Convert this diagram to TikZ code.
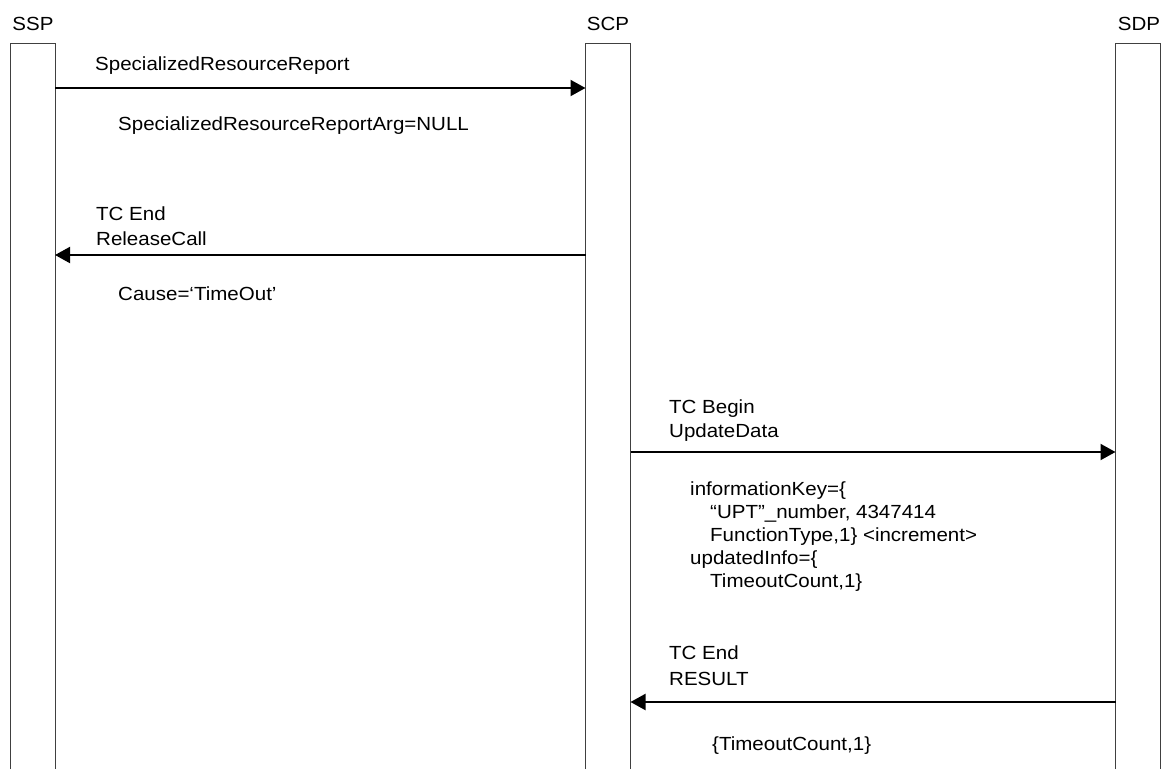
\documentclass[tikz,border=0pt]{standalone}
\usepackage{fontspec}
\setmainfont{Liberation Sans}[FakeStretch=1.08]
\usetikzlibrary{arrows.meta}
\begin{document}
\begin{tikzpicture}[x=1pt,y=-1pt,
  lifeline/.style={draw=black!75,line width=1pt},
  msg/.style={draw=black,line width=2pt,-{Triangle[length=15pt,width=16pt]}},
  lbl/.style={anchor=base west,inner sep=0pt,font=\fontsize{19}{23}\selectfont},
  head/.style={anchor=base,inner sep=0pt,font=\fontsize{19}{23}\selectfont}]
\useasboundingbox (0,0) rectangle (1168,769);
% lifeline heads
\node[head] (ssp) at (33,30) {SSP};
\node[head] (scp) at (608,30) {SCP};
\node[head] (sdp) at (1139,30) {SDP};
% lifeline boxes
\draw[lifeline] (10,769) -- (10,43) -- (55,43) -- (55,769);
\draw[lifeline] (585.5,769) -- (585.5,43) -- (630.5,43) -- (630.5,769);
\draw[lifeline] (1115.5,769) -- (1115.5,43) -- (1160.5,43) -- (1160.5,769);
% message end points
\coordinate (m1a) at (55,88);
\coordinate (m1b) at (585.5,88);
\coordinate (m2a) at (585.5,255);
\coordinate (m2b) at (55,255);
\coordinate (m3a) at (630.5,452);
\coordinate (m3b) at (1115.5,452);
\coordinate (m4a) at (1115.5,702);
\coordinate (m4b) at (630.5,702);
\draw[msg] (m1a) -- (m1b);
\draw[msg] (m2a) -- (m2b);
\draw[msg] (m3a) -- (m3b);
\draw[msg] (m4a) -- (m4b);
% labels
\node[lbl] (t1) at (95,70) {SpecializedResourceReport};
\node[lbl] (t1b) at (118,130) {SpecializedResourceReportArg=NULL};
\node[lbl] (t2) at (96,220) {TC End};
\node[lbl] (t2a) at (96,245) {ReleaseCall};
\node[lbl] (t2b) at (118,300) {Cause=‘TimeOut’};
\node[lbl] (t3) at (669,413) {TC Begin};
\node[lbl] (t3a) at (669,437) {UpdateData};
\node[lbl] (t3b1) at (690,495) {informationKey=\{};
\node[lbl] (t3b2) at (710,518) {“UPT”\_number, 4347414};
\node[lbl] (t3b3) at (710,541) {FunctionType,1\} <increment>};
\node[lbl] (t3b4) at (690,564) {updatedInfo=\{};
\node[lbl] (t3b5) at (710,587) {TimeoutCount,1\}};
\node[lbl] (t4) at (669,659) {TC End};
\node[lbl] (t4a) at (669,685) {RESULT};
\node[lbl] (t4b) at (712,750) {\{TimeoutCount,1\}};
\end{tikzpicture}
\end{document}
